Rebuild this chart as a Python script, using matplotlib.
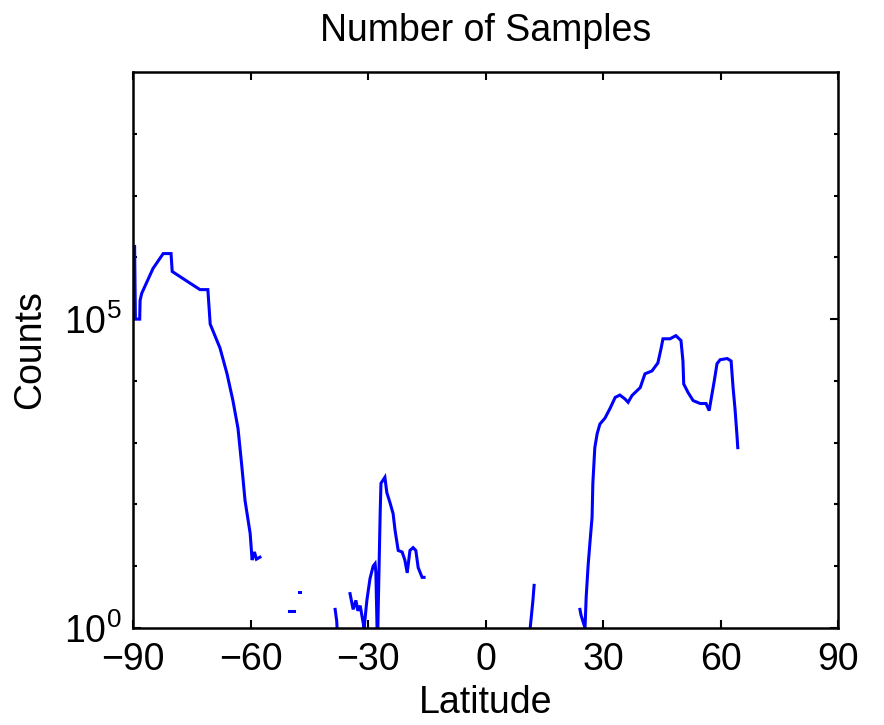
import numpy as np
import matplotlib.pyplot as plt
from matplotlib.ticker import FixedLocator, NullFormatter, LogFormatterSciNotation

plt.rcParams['font.family'] = ['Liberation Sans', 'DejaVu Sans']
plt.rcParams['mathtext.default'] = 'regular'

# latitude / sample counts, one list per visible piece of the curve
polar_s_lat = [-89.6, -89.4, -88.3, -88.2, -87.8, -84.9, -82.3, -80.3, -80.0, -76.2,
               -72.9, -70.9, -70.3, -67.8, -66.0, -64.5, -63.2, -62.2, -61.4, -60.1,
               -59.6, -59.0, -58.5, -57.6]
polar_s_cnt = [1.5e6, 1.0e5, 1.0e5, 2.0e5, 2.6e5, 6.6e5, 1.15e6, 1.15e6, 5.9e5, 4.1e5,
               3.0e5, 3.0e5, 8.3e4, 3.4e4, 1.3e4, 4.8e3, 1.7e3, 4.0e2, 1.15e2, 34,
               12.6, 17, 13, 14]

dash1_lat = [-50.2, -49.0]
dash1_cnt = [1.9, 1.9]
dash2_lat = [-47.7, -47.4]
dash2_cnt = [3.8, 3.8]

sub_s1_lat = [-38.4, -38.0, -37.9]
sub_s1_cnt = [2.0, 1.3, 1.0]

sub_s2_lat = [-34.6, -33.8, -33.1, -32.6, -32.0, -31.5, -31.0, -30.3, -29.5, -28.7,
              -28.2, -28.0, -27.7, -27.5, -26.9, -26.7, -25.7, -25.2, -24.4, -23.6,
              -23.1, -22.3, -21.3, -20.6, -20.0, -19.3, -18.5, -17.8, -17.2, -16.2,
              -15.7]
sub_s2_cnt = [3.6, 2.0, 2.8, 1.9, 2.3, 1.5, 1.0, 2.8, 6.3, 10,
              11, 8, 1.0, 1.0, 74, 220, 275, 155, 107, 71,
              38, 18, 17, 12.6, 7.8, 18, 20, 18, 9.5, 6.6,
              6.6]

trop_n_lat = [11.4, 12.1, 12.4]
trop_n_cnt = [1.0, 2.8, 4.9]

north_lat = [24.1, 24.4, 25.4, 25.7, 26.2, 26.7, 27.2, 27.4, 27.9, 28.5,
             29.2, 30.5, 31.8, 33.1, 34.3, 35.6, 36.4, 37.4, 39.5, 40.7,
             42.5, 44.0, 44.8, 45.3, 47.1, 48.6, 49.9, 50.4, 50.6, 51.7,
             53.0, 54.8, 56.3, 57.1, 57.6, 58.4, 59.1, 59.9, 61.7, 62.7,
             63.2, 63.7, 64.2, 64.4]
north_cnt = [2.0, 1.6, 1.0, 3.2, 10.5, 26, 62, 220, 830, 1400,
             2000, 2500, 3600, 5400, 5900, 5100, 4500, 5800, 7800, 1.3e4,
             1.45e4, 1.95e4, 3.3e4, 4.8e4, 4.8e4, 5.4e4, 4.5e4, 2.1e4, 8.9e3, 6.5e3,
             4.8e3, 4.3e3, 4.3e3, 3.3e3, 5.1e3, 1.0e4, 1.9e4, 2.2e4, 2.3e4, 2.1e4,
             7.8e3, 3.5e3, 1.3e3, 830]

x_ticks = [-90, -60, -30, 0, 30, 60, 90]

fig = plt.figure(figsize=(8.84, 7.25), dpi=100)
ax = fig.add_axes([0.1505, 0.1338, 0.7975, 0.7669])

pieces = [(polar_s_lat, polar_s_cnt), (dash1_lat, dash1_cnt), (dash2_lat, dash2_cnt),
          (sub_s1_lat, sub_s1_cnt), (sub_s2_lat, sub_s2_cnt),
          (trop_n_lat, trop_n_cnt), (north_lat, north_cnt)]
for lat, cnt in pieces:
    ax.plot(lat, cnt, color='#0000ff', lw=2.2, solid_joinstyle='miter')

ax.set_yscale('log')
ax.set_xlim(-90, 90)
ax.set_ylim(1, 1e9)
ax.set_xticks(x_ticks)
ax.set_xticklabels([str(t).replace('-', '\u2212') for t in x_ticks])
ax.yaxis.set_major_locator(FixedLocator([1, 1e5]))
ax.yaxis.set_major_formatter(LogFormatterSciNotation())
ax.yaxis.set_minor_locator(FixedLocator([10.0 ** k for k in range(1, 9) if k != 5]))
ax.yaxis.set_minor_formatter(NullFormatter())

ax.tick_params(which='both', direction='in', top=True, right=True,
               labelsize=27, width=1.5)
ax.tick_params(axis='x', pad=10)
ax.tick_params(axis='y', pad=8)
ax.tick_params(which='major', length=6)
ax.tick_params(which='minor', length=3)
for s in ax.spines.values():
    s.set_linewidth(1.8)

ax.set_title('Number of Samples', fontsize=27, pad=22)
ax.set_xlabel('Latitude', fontsize=27, labelpad=5)
ax.set_ylabel('Counts', fontsize=27, labelpad=12)

fig.savefig('out.png', dpi=100)
